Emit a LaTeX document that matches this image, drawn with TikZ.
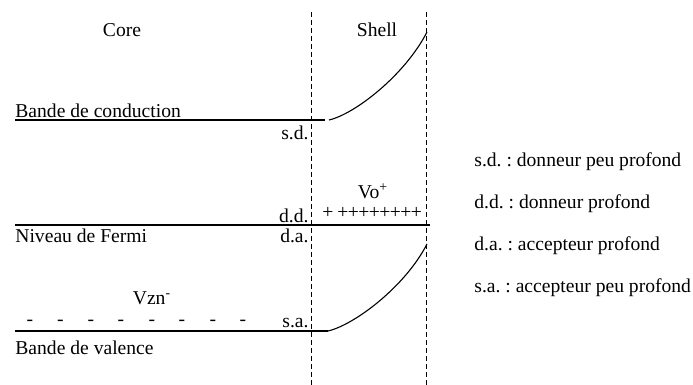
\documentclass[tikz,border=0pt]{standalone}
\usepackage{fontspec}
\setmainfont{Liberation Serif}
\usetikzlibrary{calc}
\frenchspacing

\begin{document}
\begin{tikzpicture}[
  x=0.5pt, y=-0.5pt,
  font=\fontsize{9.8pt}{12pt}\selectfont,
  txt/.style={inner sep=0pt},
  lvl/.style={line width=0.55pt},
  bandcurve/.style={line width=0.55pt},
  iface/.style={dash pattern=on 2.5pt off 1.5pt, line width=0.5pt}
]
\useasboundingbox (0,0) rectangle (693,385);

% --- interfaces core / shell --------------------------------------------
\coordinate (ifa top) at (312,12);
\coordinate (ifa bot) at (312,385);
\coordinate (ifb top) at (427,12);
\coordinate (ifb bot) at (427,385);
\draw[iface] (ifa top) -- (ifa bot);
\draw[iface] (ifb top) -- (ifb bot);

\node[txt] (core)  at (122,30) {Core};
\node[txt] (shell) at (377,30) {Shell};

% --- conduction band -------------------------------------------------------
\coordinate (cb l) at (15,120);
\coordinate (cb r) at (325,120);
\coordinate (cb s) at (329,120);
\coordinate (cb e) at (427,32);
\draw[lvl] (cb l) -- (cb r);
\draw[bandcurve] (cb s) .. controls (355,114) and (405,75) .. (cb e);
\node[txt, anchor=base west] (cbtxt) at (15,118) {Bande de conduction};
\node[txt, anchor=base east] (sd) at (309,140) {s.d.};

% --- Fermi level and deep levels ----------------------------------------
\coordinate (ef l) at (15,225);
\coordinate (ef r) at (430,225);
\draw[lvl] (ef l) -- (ef r);
\node[txt, anchor=base] (vo) at (373,199) {Vo\textsuperscript{+}};
\foreach \x [count=\i] in {328,343,353.5,364,374.5,385,395.5,406,416.5}
  \node[txt, anchor=base] (plus\i) at (\x,219) {+};
\node[txt, anchor=base east] (dd) at (309,223) {d.d.};
\node[txt, anchor=base west] (eftxt) at (15,243) {Niveau de Fermi};
\node[txt, anchor=base east] (da) at (309,243) {d.a.};

% --- valence band ---------------------------------------------------------
\coordinate (vb l) at (15,331);
\coordinate (vb r) at (328,331);
\coordinate (vb e) at (427,244);
\draw[lvl, line width=0.65pt] (vb l) -- (vb r);
\draw[bandcurve] (vb r) .. controls (354,325) and (405,287) .. (vb e);
\node[txt, anchor=base] (vzn) at (152,305) {Vzn\textsuperscript{-}};
\foreach \x [count=\i] in {30,60.5,91,121,152,182,213,243}
  \node[txt, anchor=base] (minus\i) at (\x,326) {-};
\node[txt, anchor=base east] (sa) at (309,328) {s.a.};
\node[txt, anchor=base west] (vbtxt) at (15,355) {Bande de valence};

% --- legend ----------------------------------------------------------------
\node[txt, anchor=base west] (leg1) at (474,167) {s.d. : donneur peu profond};
\node[txt, anchor=base west] (leg2) at (474,209) {d.d. : donneur profond};
\node[txt, anchor=base west] (leg3) at (474,251) {d.a. : accepteur profond};
\node[txt, anchor=base west] (leg4) at (474,293) {s.a. : accepteur peu profond};

\end{tikzpicture}
\end{document}
